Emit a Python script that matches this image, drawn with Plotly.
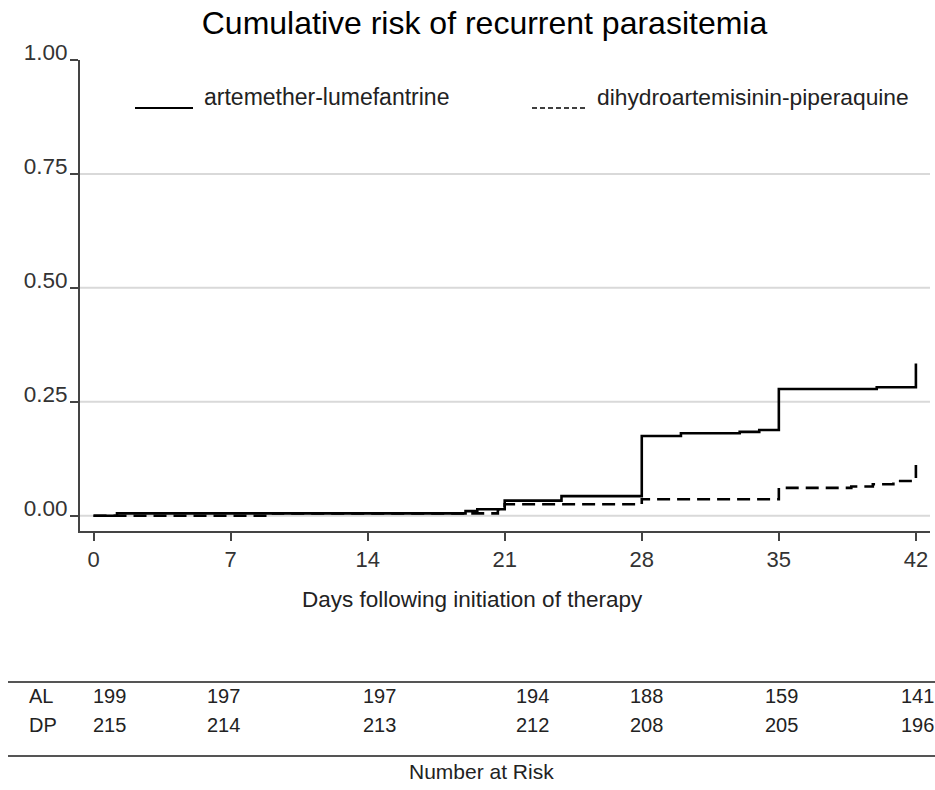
import plotly.graph_objects as go

# ---- data ----
series_names = ["artemether-lumefantrine", "dihydroartemisinin-piperaquine"]
al_days = [0, 1.2, 19.0, 19.6, 21.0, 23.9, 28.0, 30.0, 33.0, 34.0, 35.0, 40.0, 42.0]
al_risk = [0.0, 0.005, 0.010, 0.014, 0.033, 0.043, 0.175, 0.181, 0.184, 0.188, 0.278, 0.282, 0.334]
dp_days = [0, 9.1, 20.65, 21.0, 28.0, 35.0, 38.7, 39.8, 40.85, 42.0]
dp_risk = [0.0, 0.005, 0.014, 0.025, 0.036, 0.061, 0.064, 0.069, 0.076, 0.118]

x_ticks = [0, 7, 14, 21, 28, 35, 42]
y_ticks = [0.0, 0.25, 0.5, 0.75, 1.0]
grid_vals = [0.0, 0.25, 0.5, 0.75]

risk_groups = ["AL", "DP"]
al_at_risk = [199, 197, 197, 194, 188, 159, 141]
dp_at_risk = [215, 214, 213, 212, 208, 205, 196]

# ---- layout geometry (page pixels) ----
W, H = 935, 790
PL, PR, PT, PB = 80, 930, 60, 531          # plot area in page pixels
L, T = PL, PT
R, B = W - PR, H - PB
PW, PH = PR - PL, PB - PT


def px(xp):
    return (xp - PL) / PW


def py(yp):
    return (PB - yp) / PH


FONT = "Liberation Sans, Arial, sans-serif"

fig = go.Figure()
fig.add_trace(go.Scatter(x=al_days, y=al_risk, mode="lines", line_shape="hv",
                         name=series_names[0], line=dict(color="black", width=2.6)))
fig.add_trace(go.Scatter(x=dp_days, y=dp_risk, mode="lines", line_shape="hv",
                         name=series_names[1],
                         line=dict(color="black", width=2.6, dash="13px,7px")))

shapes = []
for g in grid_vals:
    shapes.append(dict(type="line", xref="paper", yref="y", x0=0, x1=1, y0=g, y1=g,
                       line=dict(color="#d9d9d9", width=2), layer="below"))
# legend samples
shapes.append(dict(type="line", xref="paper", yref="paper", x0=px(135), x1=px(193),
                   y0=py(108), y1=py(108), line=dict(color="black", width=2)))
shapes.append(dict(type="line", xref="paper", yref="paper", x0=px(532), x1=px(588),
                   y0=py(108), y1=py(108), line=dict(color="black", width=1.5, dash="5px,3px")))
# table rules
for yl in (682, 756):
    shapes.append(dict(type="line", xref="paper", yref="paper", x0=px(8), x1=px(935),
                       y0=py(yl), y1=py(yl), line=dict(color="#555", width=2)))

ann = []
ann.append(dict(text=series_names[0], xref="paper", yref="paper", x=px(202), y=py(97),
                xanchor="left", yanchor="middle", showarrow=False,
                font=dict(family=FONT, size=23, color="#222")))
ann.append(dict(text=series_names[1], xref="paper", yref="paper", x=px(595), y=py(97),
                xanchor="left", yanchor="middle", showarrow=False,
                font=dict(family=FONT, size=22.8, color="#222")))
ann.append(dict(text="Days following initiation of therapy", xref="paper", yref="paper",
                x=px(300), y=py(599), xanchor="left", yanchor="middle", showarrow=False,
                font=dict(family=FONT, size=22.5, color="#222")))

col_px = [109, 223.5, 379, 532, 646.5, 781.5, 917]
row_py = [696, 725]
for label, vals, yr in zip(risk_groups, [al_at_risk, dp_at_risk], row_py):
    ann.append(dict(text=label, xref="paper", yref="paper", x=px(27), y=py(yr),
                    xanchor="left", yanchor="middle", showarrow=False,
                    font=dict(family=FONT, size=20, color="#222")))
    for v, cx in zip(vals, col_px):
        ann.append(dict(text=str(v), xref="paper", yref="paper", x=px(cx), y=py(yr),
                        xanchor="center", yanchor="middle", showarrow=False,
                        font=dict(family=FONT, size=20, color="#222")))
ann.append(dict(text="Number at Risk", xref="paper", yref="paper", x=px(481), y=py(771),
                xanchor="center", yanchor="middle", showarrow=False,
                font=dict(family=FONT, size=21, color="#222")))

fig.update_layout(
    width=W, height=H,
    margin=dict(l=L, r=R, t=T, b=B, pad=0),
    paper_bgcolor="white", plot_bgcolor="white",
    showlegend=False,
    title=dict(text="Cumulative risk of recurrent parasitemia", xref="container", yref="container",
               x=484.5 / W, y=1 - 23 / H, xanchor="center", yanchor="middle",
               font=dict(family=FONT, size=32, color="black")),
    font=dict(family=FONT),
    shapes=shapes,
    annotations=ann,
)
fig.update_xaxes(range=[-0.69, 42.72], tickvals=x_ticks, showgrid=False, zeroline=False,
                 showline=True, linecolor="#444", linewidth=2,
                 ticks="outside", ticklen=8, tickwidth=2, tickcolor="#444",
                 tickfont=dict(family=FONT, size=22, color="#333"))
fig.update_yaxes(range=[-0.0336, 1.0], tickvals=y_ticks, tickformat=".2f", showgrid=False,
                 zeroline=False, showline=True, linecolor="#444", linewidth=2,
                 ticks="outside", ticklen=8, tickwidth=2, tickcolor="#444",
                 ticklabelshift=-8, ticklabelstandoff=-2,
                 tickfont=dict(family=FONT, size=22.5, color="#333"))

fig.write_html(
    "out.html",
    config={"displayModeBar": False},
    post_script="document.body.style.margin='0px';"
                "document.documentElement.style.overflow='hidden';",
)
